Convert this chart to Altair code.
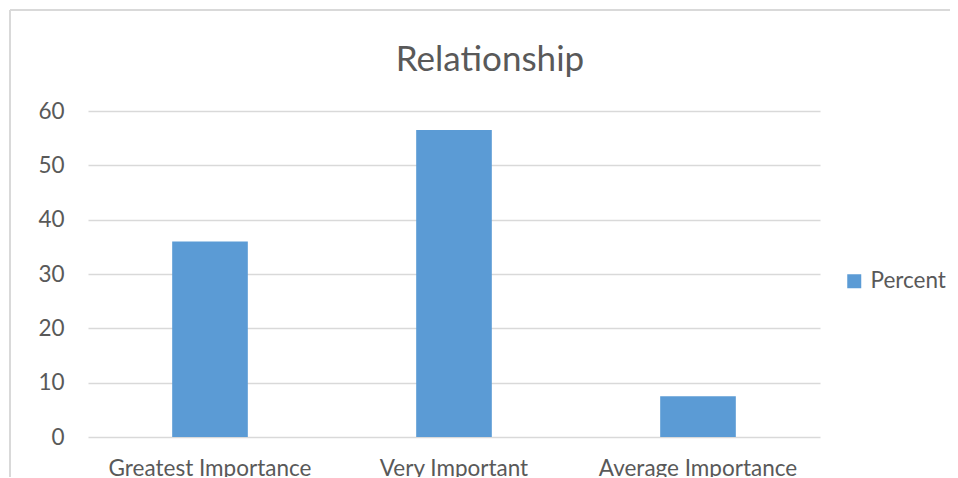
import altair as alt
import pandas as pd

categories = ["Greatest Importance", "Very Important", "Average Importance"]
values = [36.0, 56.5, 7.5]
series = ["Percent"] * 3
y_ticks = [0, 10, 20, 30, 40, 50, 60]

df = pd.DataFrame({"category": categories, "value": values, "series": series})

FONT = "Lato"
TXT = "#595959"
GRID = "#D9D9D9"

bars = alt.Chart(df).mark_bar(width=alt.RelativeBandSize(0.31), color="#5B9BD5").encode(
    x=alt.X("category:N", sort=categories, title=None,
            scale=alt.Scale(paddingInner=0, paddingOuter=0),
            axis=alt.Axis(labelAngle=0, domain=False, ticks=False, tickSize=0,
                          labelPadding=20, labelFont=FONT, labelFontSize=22.5,
                          labelColor=TXT, labelLimit=0)),
    y=alt.Y("value:Q", title=None,
            scale=alt.Scale(domain=[0, 60], nice=False),
            axis=alt.Axis(values=y_ticks, domain=False, ticks=False, tickSize=0,
                          labelPadding=24, labelFont=FONT, labelFontSize=22.5,
                          labelColor=TXT, gridColor=GRID, gridWidth=1.3)),
    color=alt.Color("series:N", scale=alt.Scale(range=["#5B9BD5"]),
                    legend=alt.Legend(title=None, orient="none", legendX=755, legendY=159,
                                      symbolType="square", symbolSize=196,
                                      symbolStrokeWidth=0, labelFont=FONT,
                                      labelFontSize=22.5, labelColor=TXT,
                                      labelOffset=5)),
)

frame_df = pd.DataFrame({"a": [0]})
left_border = alt.Chart(frame_df).mark_rule(color=GRID, strokeWidth=2).encode(
    x=alt.value(-78), y=alt.value(-101), y2=alt.value(370))
top_border = alt.Chart(frame_df).mark_rule(color=GRID, strokeWidth=2).encode(
    x=alt.value(-78), x2=alt.value(875), y=alt.value(-101))

chart = alt.layer(bars, left_border, top_border).properties(
    width=732, height=326,
    autosize=alt.AutoSizeParams(type="none"),
    padding={"left": 80, "top": 103, "right": 130, "bottom": 40},
    title=alt.Title("Relationship", font=FONT, fontSize=35, fontWeight="normal",
                    color=TXT, anchor="middle", frame="group", dx=36,
                    baseline="alphabetic", offset=-97),
).configure_view(stroke=None)

chart.save("out.html", embed_options={"renderer": "svg", "actions": False})
